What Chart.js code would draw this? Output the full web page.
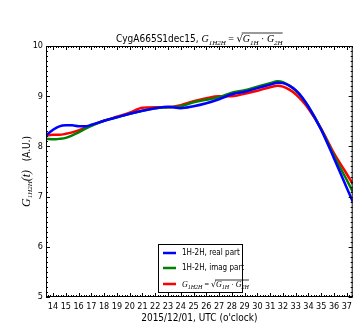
<!DOCTYPE html>
<html>
<head>
<meta charset="utf-8">
<script src="https://cdn.jsdelivr.net/npm/chart.js@4.4.0/dist/chart.umd.min.js"></script>
<style>body{margin:0;background:#fff}</style>
</head>
<body>
<canvas id="myChart" width="356" height="323"></canvas>
<script>
// hours (UTC)
const hours = [13.45, 14, 14.5, 15, 15.5, 16, 16.5, 17, 18, 19, 20, 21, 22, 23, 24, 25, 26, 27, 28, 29, 30, 31, 31.6, 32, 32.5, 33, 33.5, 34, 35, 36, 37, 37.46];
const realPart = [8.22, 8.33, 8.40, 8.42, 8.42, 8.40, 8.40, 8.43, 8.51, 8.58, 8.65, 8.71, 8.76, 8.79, 8.76, 8.80, 8.86, 8.94, 9.04, 9.09, 9.16, 9.23, 9.27, 9.26, 9.21, 9.12, 8.98, 8.79, 8.33, 7.76, 7.17, 6.90];
const imagPart = [8.15, 8.14, 8.15, 8.17, 8.22, 8.28, 8.35, 8.41, 8.51, 8.58, 8.65, 8.71, 8.76, 8.78, 8.80, 8.88, 8.93, 8.98, 9.07, 9.12, 9.19, 9.26, 9.30, 9.28, 9.21, 9.11, 8.97, 8.79, 8.34, 7.81, 7.33, 7.10];
const geoMean = [8.22, 8.23, 8.23, 8.25, 8.28, 8.32, 8.37, 8.42, 8.51, 8.59, 8.67, 8.77, 8.78, 8.78, 8.82, 8.90, 8.96, 9.00, 9.00, 9.05, 9.11, 9.18, 9.21, 9.19, 9.13, 9.04, 8.91, 8.75, 8.35, 7.86, 7.45, 7.25];
const xTicks = [14, 15, 16, 17, 18, 19, 20, 21, 22, 23, 24, 25, 26, 27, 28, 29, 30, 31, 32, 33, 34, 35, 36, 37];
const yTicks = [5, 6, 7, 8, 9, 10];
const seriesLabels = ['1H-2H, real part', '1H-2H, imag part', 'G1H2H = sqrt(G1H*G2H)'];
const seriesColors = ['#0000ff', '#008000', '#ff0000'];

const SANS = '"DejaVu Sans Condensed", "Liberation Sans Narrow", "DejaVu Sans", sans-serif';
const SERIF = '"Liberation Serif", "DejaVu Serif", serif';

// draw a row of text pieces (for sub-scripts and the root sign)
function drawRich(ctx, x, y, parts, align, barH) {
    let w = 0;
    parts.forEach(p => { ctx.font = p.f; p.w = ctx.measureText(p.t).width; w += p.w; });
    let cx = align === 'center' ? x - w / 2 : x;
    let overStart = null, overEnd = null;
    ctx.textBaseline = 'alphabetic';
    ctx.textAlign = 'left';
    parts.forEach(p => {
        ctx.font = p.f;
        ctx.fillText(p.t, cx, y + (p.dy || 0));
        if (p.over) {
            if (overStart === null) overStart = cx;
            overEnd = cx + p.w;
        }
        cx += p.w;
    });
    if (overStart !== null) {
        ctx.beginPath();
        ctx.lineWidth = 0.8;
        ctx.moveTo(overStart - 1, y - barH);
        ctx.lineTo(overEnd, y - barH);
        ctx.stroke();
    }
}

function mathParts(size) {
    const it = 'italic ' + size + 'px ' + SERIF;
    const sub = 'italic ' + Math.round(size * 0.7) + 'px ' + SERIF;
    const rm = size + 'px ' + SERIF;
    const d = Math.round(size * 0.25);
    return [
        {t: 'G', f: it}, {t: '1H2H', f: sub, dy: d}, {t: ' = ', f: rm},
        {t: '\u221A', f: size + 'px "DejaVu Sans"'},
        {t: 'G', f: it, over: true}, {t: '1H', f: sub, dy: d, over: true},
        {t: ' \u00B7 ', f: rm, over: true},
        {t: 'G', f: it, over: true}, {t: '2H', f: sub, dy: d, over: true}
    ];
}

const textPlugin = {
    id: 'texts',
    afterDraw(chart) {
        const {ctx, chartArea: a, scales: {x, y}} = chart;
        ctx.save();
        ctx.fillStyle = '#000';
        ctx.strokeStyle = '#000';

        // frame with inward ticks on all four sides
        ctx.lineWidth = 1;
        ctx.strokeRect(a.left + 0.5, a.top + 0.5, a.right - a.left - 1, a.bottom - a.top - 1);
        ctx.beginPath();
        for (let i = 68; i <= 187; i++) {
            const v = i / 5;
            if (v < x.min || v > x.max) continue;
            const px = Math.round(x.getPixelForValue(v)) + 0.5;
            const len = i % 5 === 0 ? 4 : 2;
            ctx.moveTo(px, a.bottom); ctx.lineTo(px, a.bottom - len);
            ctx.moveTo(px, a.top); ctx.lineTo(px, a.top + len);
        }
        for (let i = 50; i <= 100; i++) {
            const py = Math.round(y.getPixelForValue(i / 10)) + 0.5;
            const len = i % 10 === 0 ? 4 : 2;
            ctx.moveTo(a.left, py); ctx.lineTo(a.left + len, py);
            ctx.moveTo(a.right, py); ctx.lineTo(a.right - len, py);
        }
        ctx.stroke();

        // title
        const title = [{t: 'CygA665S1dec15, ', f: '10px ' + SANS}].concat(mathParts(10));
        drawRich(ctx, (a.left + a.right) / 2, 42, title, 'center', 9);

        // y axis title, rotated
        ctx.save();
        ctx.translate(30, (a.top + a.bottom) / 2);
        ctx.rotate(-Math.PI / 2);
        const it = 'italic 12px ' + SERIF;
        drawRich(ctx, 0, 0, [
            {t: 'G', f: it}, {t: '1H2H', f: 'italic 7px ' + SERIF, dy: 2},
            {t: '(t)', f: it}, {t: '   (A.U.)', f: '10px ' + SANS}
        ], 'center');
        ctx.restore();
        ctx.restore();
    },
    afterDatasetsDraw(chart) {
        const {ctx} = chart;
        ctx.save();
        // legend box
        const bx = 158, by = 244, bw = 84, bh = 48;
        ctx.fillStyle = '#fff';
        ctx.fillRect(bx, by, bw, bh);
        ctx.strokeStyle = '#000';
        ctx.lineWidth = 1;
        ctx.strokeRect(bx + 0.5, by + 0.5, bw, bh);
        const rows = [253, 268, 284];
        seriesColors.forEach((c, i) => {
            ctx.strokeStyle = c;
            ctx.lineWidth = 2.5;
            ctx.beginPath();
            ctx.moveTo(163, rows[i]); ctx.lineTo(176, rows[i]);
            ctx.stroke();
            ctx.fillStyle = '#000';
            ctx.strokeStyle = '#000';
            if (i < 2) {
                ctx.font = '8px ' + SANS;
                ctx.textBaseline = 'middle';
                ctx.textAlign = 'left';
                ctx.fillText(seriesLabels[i], 182, rows[i]);
            } else {
                drawRich(ctx, 182, rows[i] + 3, mathParts(8), 'left', 7);
            }
        });
        ctx.restore();
    }
};

const makeSet = (label, values, color) => ({
    label: label,
    data: hours.map((h, i) => ({x: h, y: values[i]})),
    borderColor: color,
    borderWidth: 2.5,
    pointRadius: 0,
    fill: false,
    cubicInterpolationMode: 'monotone'
});

new Chart(document.getElementById('myChart').getContext('2d'), {
    type: 'line',
    data: {
        datasets: [
            makeSet(seriesLabels[0], realPart, seriesColors[0]),
            makeSet(seriesLabels[1], imagPart, seriesColors[1]),
            makeSet(seriesLabels[2], geoMean, seriesColors[2])
        ]
    },
    options: {
        responsive: false,
        animation: false,
        layout: {padding: {top: 46, right: 2, left: 0, bottom: 0}},
        plugins: {legend: {display: false}, title: {display: false}, tooltip: {enabled: false}},
        scales: {
            x: {
                type: 'linear',
                min: 13.45,
                max: 37.46,
                afterBuildTicks: s => { s.ticks = xTicks.map(v => ({value: v})); },
                afterFit: s => { s.height = 26; },
                grid: {display: false, drawTicks: false},
                border: {display: false},
                ticks: {color: '#000', font: {family: SANS, size: 9}, padding: 4, maxRotation: 0, autoSkip: false},
                title: {display: true, text: "2015/12/01, UTC (o'clock)", color: '#000', font: {family: SANS, size: 10}, padding: {top: 0, bottom: -1}}
            },
            y: {
                min: 5,
                max: 10,
                afterBuildTicks: s => { s.ticks = yTicks.map(v => ({value: v})); },
                afterFit: s => { s.width = 46; },
                grid: {display: false, drawTicks: false},
                border: {display: false},
                ticks: {color: '#000', font: {family: SANS, size: 9}, padding: 3}
            }
        }
    },
    plugins: [textPlugin]
});
</script>
</body>
</html>
